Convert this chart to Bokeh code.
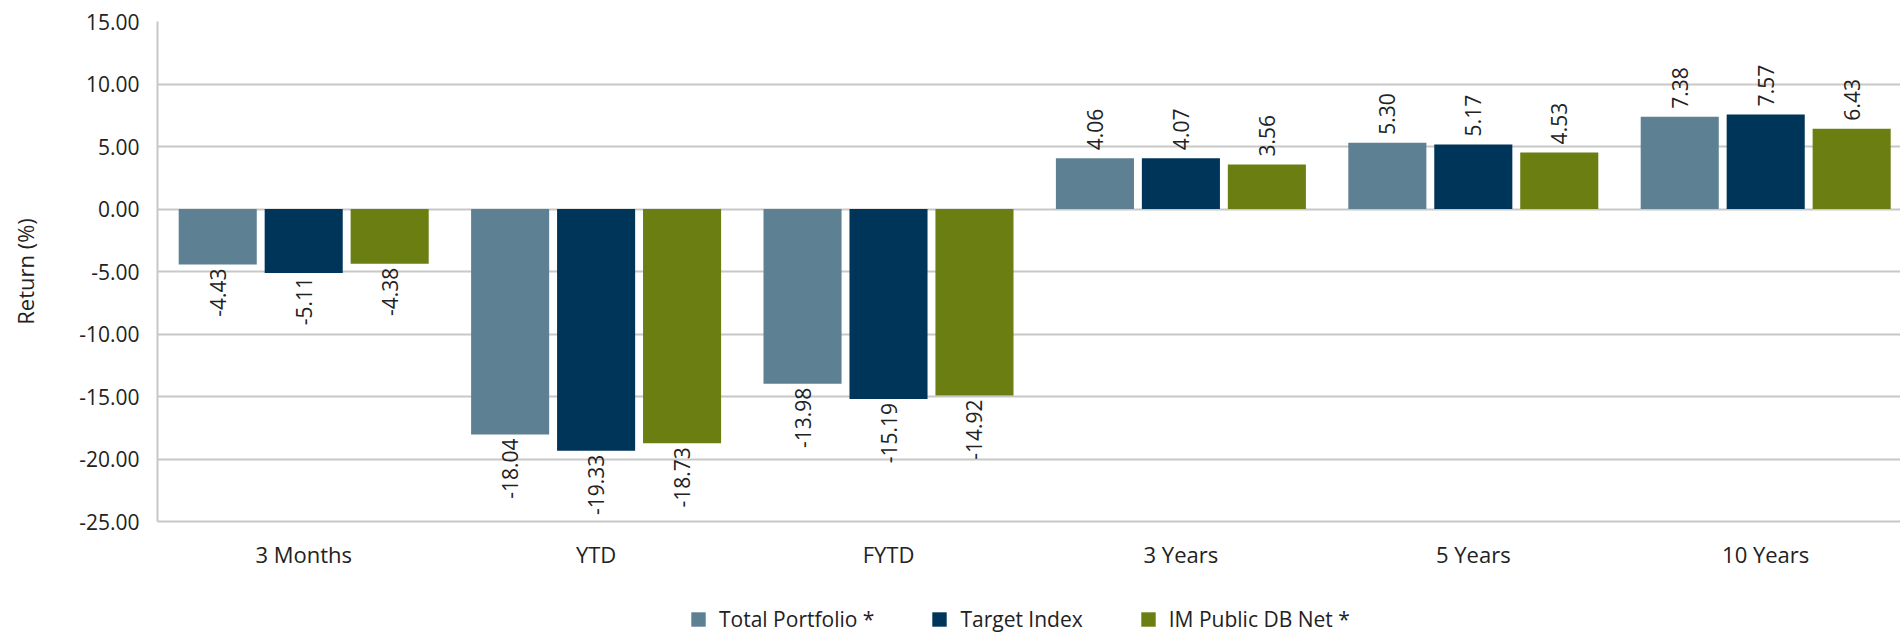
import numpy as np
from bokeh.plotting import figure
from bokeh.layouts import column
from bokeh.models import (ColumnDataSource, Range1d, FixedTicker, Legend, LegendItem,
                          NumeralTickFormatter)
from bokeh.core.properties import value
from bokeh.embed import file_html
from bokeh.resources import INLINE

# ---- data ----
categories = ["3 Months", "YTD", "FYTD", "3 Years", "5 Years", "10 Years"]
series_names = ["Total Portfolio *", "Target Index", "IM Public DB Net *"]
total_portfolio = [-4.43, -18.04, -13.98, 4.06, 5.30, 7.38]
target_index = [-5.11, -19.33, -15.19, 4.07, 5.17, 7.57]
im_public_db_net = [-4.38, -18.73, -14.92, 3.56, 4.53, 6.43]
y_ticks = [-25, -20, -15, -10, -5, 0, 5, 10, 15]

# ---- style ----
colors = ["#5E8093", "#00355A", "#6B7E12"]
FONT = "Open Sans"
TXT = "#222222"
GRID = "#C8C8C8"
BAR_W = 0.267
PITCH = 0.294
W = 1900
TOP = 21
H_MAIN = TOP + 500 + 60
H_LEG = 635 - H_MAIN

p = figure(width=W, height=H_MAIN, output_backend="svg", toolbar_location=None,
           x_range=Range1d(0, 5.961), y_range=Range1d(-25, 15),
           min_border_left=157, min_border_right=0, min_border_top=TOP,
           min_border_bottom=60)
p.outline_line_color = None
p.background_fill_color = "white"

series = [total_portfolio, target_index, im_public_db_net]
base = np.arange(len(categories)) + 0.5
sources = []
lx, ly, lt, la, lo = [], [], [], [], []
for k, (vals, col) in enumerate(zip(series, colors)):
    xs = base + (k - 1) * PITCH
    src = ColumnDataSource(dict(x=xs, top=vals))
    sources.append(src)
    p.vbar(x="x", top="top", bottom=0, width=BAR_W, source=src,
           fill_color=col, line_color=None)
    for xv, v in zip(xs, vals):
        lx.append(xv)
        ly.append(v)
        lt.append(f"{v:.2f}")
        la.append("left" if v >= 0 else "right")
        lo.append(-8 if v >= 0 else 4)

lab_src = ColumnDataSource(dict(x=lx, y=ly, text=lt, align=la, yoff=lo))
p.text(x="x", y="y", text="text", source=lab_src, angle=np.pi / 2,
       text_align="align", text_baseline="middle", y_offset="yoff",
       text_font=value(FONT), text_font_size="21px", text_color=TXT)

# axes
p.yaxis.ticker = FixedTicker(ticks=y_ticks)
p.yaxis.formatter = NumeralTickFormatter(format="0.00")
p.yaxis.axis_label = "Return (%)"
p.yaxis.axis_label_text_font = FONT
p.yaxis.axis_label_text_font_style = "normal"
p.yaxis.axis_label_text_font_size = "22px"
p.yaxis.axis_label_text_color = TXT
p.yaxis.axis_label_standoff = 36
p.yaxis.major_label_text_font = FONT
p.yaxis.major_label_text_font_size = "21px"
p.yaxis.major_label_text_color = TXT
p.yaxis.major_label_standoff = 18
p.yaxis.major_tick_out = 0
p.yaxis.major_tick_in = 0
p.yaxis.minor_tick_out = 0
p.yaxis.minor_tick_in = 0
p.yaxis.axis_line_color = GRID
p.yaxis.axis_line_width = 2

p.xaxis.ticker = FixedTicker(ticks=list(base))
p.xaxis.major_label_overrides = {float(b): c for b, c in zip(base, categories)}
p.xaxis.major_label_text_font = FONT
p.xaxis.major_label_text_font_size = "22px"
p.xaxis.major_label_text_color = TXT
p.xaxis.major_label_standoff = 17
p.xaxis.major_tick_out = 0
p.xaxis.major_tick_in = 0
p.xaxis.minor_tick_out = 0
p.xaxis.minor_tick_in = 0
p.xaxis.axis_line_color = GRID
p.xaxis.axis_line_width = 2

p.xgrid.grid_line_color = None
p.ygrid.ticker = FixedTicker(ticks=y_ticks)
p.ygrid.grid_line_color = GRID
p.ygrid.grid_line_width = 2

# ---- legend strip (separate small figure under the chart) ----
lf = figure(width=W, height=H_LEG, output_backend="svg", toolbar_location=None,
            x_range=Range1d(0, 1), y_range=Range1d(100, 101), min_border=0)
lf.axis.visible = False
lf.grid.visible = False
lf.outline_line_color = None
# same series drawn out of view here, only to give the legend its swatches
proxies = [lf.vbar(x="x", top="top", bottom=0, width=BAR_W, source=s,
                   fill_color=c, line_color=None)
           for s, c in zip(sources, colors)]
legend = Legend(items=[LegendItem(label=value(n), renderers=[r])
                       for n, r in zip(series_names, proxies)],
                orientation="horizontal", location=(532, 2),
                glyph_width=18, glyph_height=18, label_standoff=12, spacing=56,
                padding=0, margin=0, border_line_color=None,
                background_fill_alpha=0, label_text_font=FONT,
                label_text_font_size="21px", label_text_color=TXT,
                label_height=18)
lf.add_layout(legend, "center")

layout = column(p, lf, spacing=0)
open("out.html", "w").write(file_html(layout, INLINE))
